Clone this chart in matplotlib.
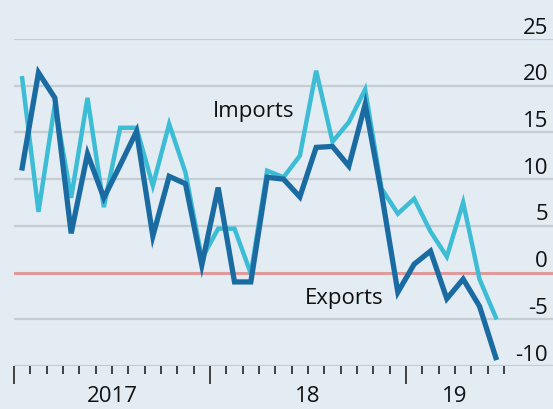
import matplotlib
matplotlib.use("Agg")
import matplotlib.pyplot as plt
import numpy as np

# Monthly % change, Jan 2017 - Jun 2019
imports = [20.8, 6.5, 18.0, 8.0, 18.7, 7.0, 15.5, 15.5, 9.3, 15.9,
           10.7, 1.5, 4.7, 4.7, -0.1, 10.9, 10.2, 12.5, 21.6, 14.0,
           16.1, 19.6, 9.0, 6.3, 7.9, 4.4, 1.7, 7.5, -0.7, -4.8]
exports = [11.2, 21.4, 18.7, 4.2, 12.7, 8.0, 11.5, 15.1, 3.9, 10.3,
           9.5, 0.8, 9.1, -1.0, -1.0, 10.2, 10.0, 8.1, 13.4, 13.5,
           11.4, 18.0, 8.5, -2.1, 0.9, 2.3, -2.8, -0.7, -3.6, -9.1]
y_ticks = [25, 20, 15, 10, 5, 0, -5, -10]
year_labels = ["2017", "18", "19"]
year_label_pos = [6, 18, 27]

BG = "#e3ecf3"
W, H = 553, 410
fig = plt.figure(figsize=(W / 100, H / 100), dpi=100)
fig.patch.set_facecolor(BG)
ax = fig.add_axes([14 / W, (H - 367) / H, 1 - 14 / W, 327 / H])
ax.set_facecolor(BG)
ax.set_xlim(0, 33)
ax.set_ylim(-10, 25)
for s in ax.spines.values():
    s.set_visible(False)

FONT = "Open Sans"
for v in y_ticks:
    if v == 0:
        ax.axhline(v, color="#e09a9a", lw=2.2, zorder=2)
    else:
        ax.axhline(v, color="#c6cdd2", lw=1.6, zorder=1)
    ax.text(1 - 5 / (W - 14), v + 0.15, str(v), transform=ax.get_yaxis_transform(),
            ha="right", va="bottom", fontsize=16, family=FONT, color="#111111")

x = np.arange(len(imports)) + 0.5
ax.plot(x, imports, color="#3dbcd6", lw=3.2, zorder=3, solid_joinstyle="miter")
ax.plot(x, exports, color="#1b6ba3", lw=3.8, zorder=4, solid_joinstyle="miter")

# x axis ticks
ax.set_yticks([])
ax.set_xticks(np.arange(0, 31, 1), minor=True)
ax.set_xticks([0, 12, 24])
ax.set_xticklabels([])
ax.tick_params(axis="x", which="minor", length=6, width=1.3, color="#333333")
ax.tick_params(axis="x", which="major", length=13, width=1.3, color="#333333")
for lab, p in zip(year_labels, year_label_pos):
    ax.text(p, -12.0, lab, ha="center", va="top",
            fontsize=16, family=FONT, color="#111111")

ax.text(14.7, 17.4, "Imports", ha="center", va="center", fontsize=16, family=FONT, color="#111111")
ax.text(20.2, -2.7, "Exports", ha="center", va="center", fontsize=16, family=FONT, color="#111111")

fig.savefig("out.png", dpi=100, facecolor=BG)
